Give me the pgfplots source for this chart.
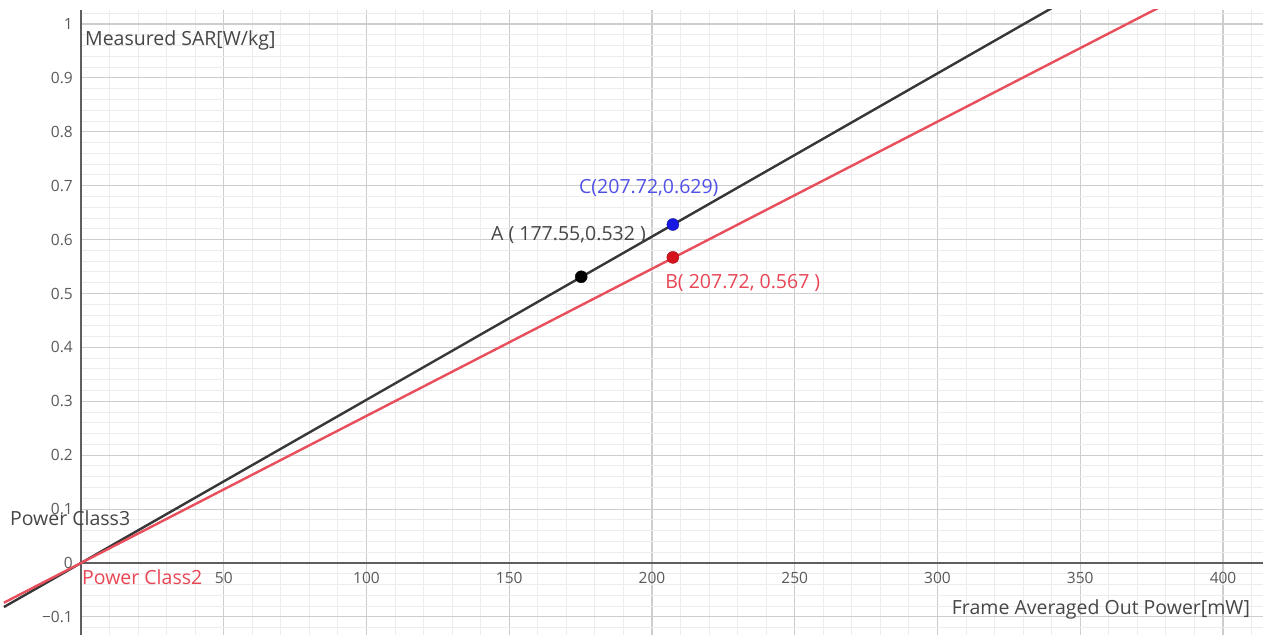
\documentclass[border=0pt]{standalone}
\usepackage{fontspec}
\setmainfont{Open Sans}
\usepackage{pgfplots}
\pgfplotsset{compat=1.18}
\definecolor{axisc}{RGB}{95,95,95}
\definecolor{majg}{RGB}{205,205,205}
\definecolor{ming}{RGB}{236,236,236}
\definecolor{tickc}{RGB}{90,90,90}
\definecolor{lineblack}{RGB}{55,55,55}
\definecolor{linered}{RGB}{232,78,92}
\definecolor{dotblue}{RGB}{25,25,225}
\definecolor{dotred}{RGB}{215,20,30}
\definecolor{txtblue}{RGB}{80,80,230}
\definecolor{txtred}{RGB}{232,70,85}
\definecolor{txtgray}{RGB}{70,70,70}
\begin{document}
\begin{tikzpicture}
\useasboundingbox (0,0) rectangle (1263pt,635pt);
\begin{axis}[at={(81pt,0pt)}, anchor=south west, width=1182pt, height=625pt, scale only axis,
 xmin=0, xmax=414, ymin=-0.1336, ymax=1.026,
 axis lines=middle, axis line style={axisc, line width=1.8pt, -},
 xtick={50,100,...,400}, xticklabels={50,100,150,200,250,300,350,400},
 ytick={-0.1,0,0.1,0.2,0.3,0.4,0.5,0.6,0.7,0.8,0.9,1},
 yticklabels={−0.1,0,0.1,0.2,0.3,0.4,0.5,0.6,0.7,0.8,0.9,1},
 minor xtick={10,20,...,410},
 minor ytick={-0.12,-0.08,-0.06,-0.04,-0.02,0.02,0.04,0.06,0.08,0.12,0.14,0.16,0.18,0.22,0.24,0.26,0.28,0.32,0.34,0.36,0.38,0.42,0.44,0.46,0.48,0.52,0.54,0.56,0.58,0.62,0.64,0.66,0.68,0.72,0.74,0.76,0.78,0.82,0.84,0.86,0.88,0.92,0.94,0.96,0.98,1.02},
 grid=both, major grid style={majg, line width=1.1pt}, minor grid style={ming, line width=1pt},
 major tick length=0pt, minor tick length=0pt,
 hide obscured x ticks=false, hide obscured y ticks=false,
 tick label style={font=\fontsize{15.5}{18}\selectfont, text=tickc, inner sep=0pt},
 xticklabel style={anchor=center, yshift=-15pt},
 yticklabel style={anchor=east, xshift=-8pt},
]
\end{axis}
\begin{axis}[at={(0pt,0pt)}, anchor=south west, width=1263pt, height=625pt, scale only axis,
 xmin=-28.37, xmax=414, ymin=-0.1336, ymax=1.026, hide axis]
\addplot[lineblack, line width=2.4pt] coordinates {(-27,-0.08176) (350,1.0598)};
\addplot[linered, line width=2.4pt] coordinates {(-27,-0.0737) (390,1.06454)};
\addplot[only marks, mark=*, mark size=6pt, draw=black, fill=black] coordinates {(175.2,0.531)};
\addplot[only marks, mark=*, mark size=6pt, draw=dotblue!70!black, fill=dotblue] coordinates {(207.3,0.628)};
\addplot[only marks, mark=*, mark size=6pt, draw=dotred!70!black, fill=dotred] coordinates {(207.3,0.567)};
\node[anchor=west, inner sep=0pt, text=txtgray, font=\fontsize{19.5}{22}\selectfont] at (axis cs:1.4,0.970) {Measured SAR[W/kg]};
\node[anchor=east, inner sep=0pt, text=txtgray, font=\fontsize{19.5}{22}\selectfont] at (axis cs:409.5,-0.0853) {Frame Averaged Out Power[mW]};
\node[anchor=west, inner sep=0pt, text=txtgray, font=\fontsize{19.5}{22}\selectfont] at (axis cs:-24.9,0.0835) {Power Class3};
\node[anchor=west, inner sep=0pt, text=txtred, font=\fontsize{19.5}{22}\selectfont] at (axis cs:0.35,-0.026) {Power Class2};
\node[anchor=west, inner sep=0pt, text=txtblue, font=\fontsize{19.5}{22}\selectfont] at (axis cs:174.4,0.696) {C(207.72,0.629)};
\node[anchor=west, inner sep=0pt, text=txtgray, font=\fontsize{19.5}{22}\selectfont] at (axis cs:143.6,0.6085) {A ( 177.55,0.532 )};
\node[anchor=west, inner sep=0pt, text=txtred, font=\fontsize{19.5}{22}\selectfont] at (axis cs:204.6,0.5195) {B( 207.72, 0.567 )};
\end{axis}
\end{tikzpicture}
\end{document}
